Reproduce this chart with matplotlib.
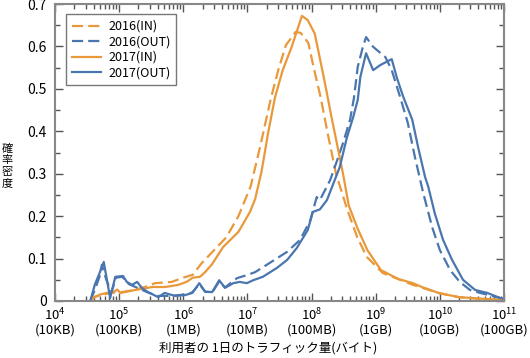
import matplotlib
matplotlib.use('Agg')
import matplotlib.pyplot as plt
from matplotlib.ticker import FixedLocator, LogLocator, NullFormatter, MultipleLocator
import numpy as np

plt.rcParams['font.family'] = ['Noto Sans CJK JP', 'DejaVu Sans']
plt.rcParams['mathtext.fontset'] = 'custom'
plt.rcParams['mathtext.rm'] = 'Noto Sans CJK JP'

# log10(bytes) and density
in16_x = [4.55, 4.62, 4.75, 4.90, 5.00, 5.20, 5.40, 5.56, 5.82, 5.98, 6.15, 6.28, 6.45, 6.67,
          6.86, 7.05, 7.20, 7.36, 7.48, 7.60, 7.75, 7.83, 7.95, 8.03, 8.14, 8.25, 8.38, 8.56,
          8.71, 8.86, 9.11, 9.38, 9.58, 9.75, 10.0, 10.3, 10.7, 11.0]
in16_y = [0.0, 0.010, 0.015, 0.020, 0.020, 0.025, 0.033, 0.042, 0.045, 0.054, 0.062, 0.088, 0.115, 0.150,
          0.200, 0.270, 0.365, 0.474, 0.544, 0.603, 0.634, 0.632, 0.608, 0.552, 0.481, 0.396, 0.300, 0.214,
          0.151, 0.104, 0.066, 0.050, 0.038, 0.030, 0.018, 0.009, 0.004, 0.002]

out16_x = [4.55, 4.63, 4.70, 4.73, 4.80, 4.88, 4.95, 5.05, 5.15, 5.30, 5.45, 5.60, 5.80, 6.00,
           6.14, 6.25, 6.34, 6.45, 6.56, 6.65, 6.84, 6.99, 7.12, 7.35, 7.62, 7.82, 7.98, 8.08,
           8.13, 8.29, 8.40, 8.49, 8.60, 8.66, 8.72, 8.80, 8.85, 8.96, 9.15, 9.25, 9.38, 9.50,
           9.61, 9.74, 9.88, 10.0, 10.16, 10.31, 10.47, 10.63, 10.94, 11.0]
out16_y = [0.0, 0.030, 0.060, 0.085, 0.050, 0.020, 0.055, 0.057, 0.040, 0.030, 0.020, 0.012, 0.012, 0.015,
           0.020, 0.040, 0.022, 0.020, 0.046, 0.032, 0.054, 0.061, 0.068, 0.090, 0.116, 0.144, 0.190, 0.245,
           0.238, 0.285, 0.332, 0.372, 0.427, 0.478, 0.552, 0.599, 0.622, 0.599, 0.575, 0.544, 0.481, 0.420,
           0.340, 0.255, 0.174, 0.120, 0.073, 0.045, 0.026, 0.019, 0.007, 0.005]

in17_x = [4.55, 4.60, 4.70, 4.80, 4.90, 4.97, 5.02, 5.25, 5.52, 5.72, 5.92, 6.05, 6.15, 6.26,
          6.34, 6.45, 6.62, 6.86, 7.04, 7.12, 7.22, 7.32, 7.43, 7.55, 7.69, 7.85, 7.94, 8.05,
          8.20, 8.31, 8.41, 8.49, 8.58, 8.72, 8.87, 9.08, 9.35, 9.58, 9.72, 9.98, 10.3, 10.7, 11.0]
in17_y = [0.0, 0.008, 0.015, 0.019, 0.020, 0.027, 0.019, 0.026, 0.033, 0.033, 0.038, 0.045, 0.055, 0.057,
          0.068, 0.087, 0.127, 0.163, 0.210, 0.240, 0.305, 0.394, 0.480, 0.544, 0.599, 0.672, 0.662, 0.630,
          0.520, 0.434, 0.360, 0.300, 0.225, 0.170, 0.120, 0.073, 0.052, 0.042, 0.033, 0.019, 0.009, 0.005, 0.002]

out17_x = [4.55, 4.62, 4.70, 4.76, 4.86, 4.94, 5.06, 5.12, 5.20, 5.28, 5.36, 5.45, 5.61, 5.71,
           5.87, 6.03, 6.14, 6.25, 6.34, 6.45, 6.56, 6.65, 6.78, 6.88, 6.99, 7.09, 7.24, 7.46,
           7.62, 7.77, 7.94, 8.02, 8.13, 8.24, 8.33, 8.44, 8.55, 8.65, 8.72, 8.76, 8.85, 8.96,
           9.07, 9.25, 9.33, 9.43, 9.57, 9.66, 9.77, 9.82, 9.92, 10.05, 10.19, 10.36, 10.55,
           10.74, 10.94, 11.0]
out17_y = [0.0, 0.038, 0.068, 0.092, 0.007, 0.057, 0.059, 0.045, 0.038, 0.045, 0.030, 0.021, 0.009, 0.019,
           0.012, 0.014, 0.019, 0.042, 0.022, 0.021, 0.049, 0.031, 0.042, 0.045, 0.042, 0.049, 0.057, 0.078,
           0.097, 0.125, 0.167, 0.210, 0.216, 0.238, 0.273, 0.316, 0.385, 0.434, 0.474, 0.528, 0.584, 0.544,
           0.556, 0.570, 0.526, 0.481, 0.427, 0.363, 0.292, 0.269, 0.207, 0.144, 0.097, 0.050, 0.026,
           0.019, 0.007, 0.005]

xtick_exp = [4, 5, 6, 7, 8, 9, 10, 11]
xtick_units = ['10KB', '100KB', '1MB', '10MB', '100MB', '1GB', '10GB', '100GB']
ylabel_chars = ['確', '率', '密', '度']

orange = '#E9983A'
blue = '#4A76AF'

fig = plt.figure(figsize=(5.3, 3.58), dpi=100)
ax = fig.add_axes([55 / 530, 57 / 358, 449 / 530, 297 / 358])

dash = (0, (5, 2.3))
ax.plot(10 ** np.array(in16_x), in16_y, color=orange, lw=1.6, linestyle=dash, label='2016(IN)')
ax.plot(10 ** np.array(out16_x), out16_y, color=blue, lw=1.6, linestyle=dash, label='2016(OUT)')
ax.plot(10 ** np.array(in17_x), in17_y, color=orange, lw=1.6, label='2017(IN)')
ax.plot(10 ** np.array(out17_x), out17_y, color=blue, lw=1.6, label='2017(OUT)')

ax.set_xscale('log')
ax.set_xlim(1e4, 1e11)
ax.set_ylim(0, 0.7)

ax.xaxis.set_major_locator(FixedLocator([10.0 ** e for e in xtick_exp]))
ax.xaxis.set_minor_locator(LogLocator(base=10, subs=np.arange(2, 10), numticks=20))
ax.xaxis.set_minor_formatter(NullFormatter())
ax.set_xticklabels(['$\\mathregular{10^{%d}}$\n(%s)' % (e, u) for e, u in zip(xtick_exp, xtick_units)],
                   fontsize=9.5, linespacing=1.0)

ax.set_yticks(np.arange(0, 0.71, 0.1))
ax.yaxis.set_minor_locator(MultipleLocator(0.05))
ax.set_yticklabels(['0', '0.1', '0.2', '0.3', '0.4', '0.5', '0.6', '0.7'], fontsize=10)

ax.tick_params(which='both', direction='in', top=True, right=True, color='#555555')
ax.tick_params(axis='y', which='major', length=6, width=1, pad=6)
ax.tick_params(axis='x', which='major', length=6, width=1, pad=4)
ax.tick_params(which='minor', length=3.5, width=1)
for s in ax.spines.values():
    s.set_color('#888888')
    s.set_linewidth(1.5)

leg = ax.legend(loc='upper left', bbox_to_anchor=(0.025, 0.965), fontsize=9, handlelength=2.3,
                fancybox=False, framealpha=1, edgecolor='#777777', borderpad=0.45,
                labelspacing=0.2, handletextpad=0.6, borderaxespad=0)
leg.get_frame().set_linewidth(1.0)

ax.set_xlabel('利用者の 1日のトラフィック量(バイト)', fontsize=9)
ax.xaxis.set_label_coords(0.474, -0.138)
for i, ch in enumerate(ylabel_chars):
    fig.text(7 / 530, 1 - (149 + 11.5 * i) / 358, ch, fontsize=8, ha='center', va='center')

fig.savefig('out.png', dpi=100)
